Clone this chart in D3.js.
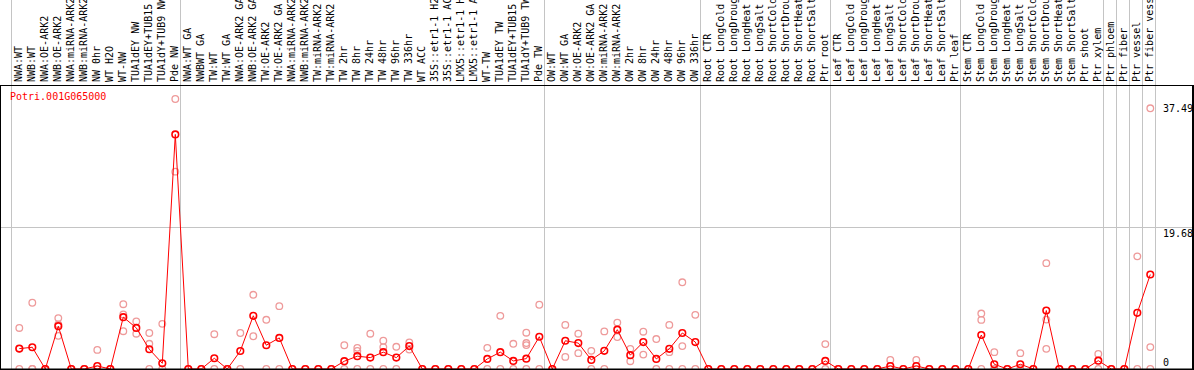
<!DOCTYPE html>
<html>
<head>
<meta charset="utf-8">
<script src="https://cdn.jsdelivr.net/npm/d3@7/dist/d3.min.js"></script>
<style>
  html, body { margin: 0; padding: 0; background: #fff; }
  svg { display: block; }
  text { font-family: "DejaVu Sans Mono", "Liberation Mono", monospace; font-size: 10px; }
</style>
</head>
<body>
<div id="chart"></div>
<script>
const geneName = 'Potri.001G065000';

const categories = [
  'NWA:WT', 'NWB:WT', 'NWA:OE-ARK2', 'NWB:OE-ARK2', 'NWA:miRNA-ARK2', 'NWB:miRNA-ARK2',
  'NW 0hr', 'WT H2O', 'WT-NW', 'TUA1dEY NW', 'TUA1dEY+TUB15', 'TUA1dY+TUB9 NW', 'Pde NW',
  'NWA:WT GA', 'NWBWT GA', 'TW:WT', 'TW:WT GA', 'NWA:OE-ARK2 GA', 'NWB:OE-ARK2 GA',
  'TW:OE-ARK2', 'TW:OE-ARK2 GA', 'NWA:miRNA-ARK2', 'NWB:miRNA-ARK2', 'TW:miRNA-ARK2',
  'TW:miRNA-ARK2', 'TW 2hr', 'TW 8hr', 'TW 24hr', 'TW 48hr', 'TW 96hr', 'TW 336hr',
  'WT ACC', '35S::etr1-1 H2O', '35S::etr1-1 ACC', 'LMX5::etr1-1 H2O', 'LMX5::etr1-1 ACC',
  'WT-TW', 'TUA1dEY TW', 'TUA1dEY+TUB15', 'TUA1dY+TUB9 TW', 'Pde TW',
  'OW:WT', 'OW:WT GA', 'OW:OE-ARK2', 'OW:OE-ARK2 GA', 'OW:miRNA-ARK2', 'OW:miRNA-ARK2',
  'OW 2hr', 'OW 8hr', 'OW 24hr', 'OW 48hr', 'OW 96hr', 'OW 336hr',
  'Root CTR', 'Root LongCold', 'Root LongDrought', 'Root LongHeat', 'Root LongSalt',
  'Root ShortCold', 'Root ShortDrought', 'Root ShortHeat', 'Root ShortSalt', 'Ptr root',
  'Leaf CTR', 'Leaf LongCold', 'Leaf LongDrought', 'Leaf LongHeat', 'Leaf LongSalt',
  'Leaf ShortCold', 'Leaf ShortDrought', 'Leaf ShortHeat', 'Leaf ShortSalt', 'Ptr leaf',
  'Stem CTR', 'Stem LongCold', 'Stem LongDrought', 'Stem LongHeat', 'Stem LongSalt',
  'Stem ShortCold', 'Stem ShortDrought', 'Stem ShortHeat', 'Stem ShortSalt', 'Ptr shoot',
  'Ptr xylem', 'Ptr phloem', 'Ptr fiber', 'Ptr vessel', 'Ptr fiber vessel'
];

// index where each group of samples starts (last entry closes the final group)
const groupStarts = [0, 13, 41, 53, 63, 73, 84, 85, 86, 87, 88];

const meanValues = [
  2.83, 3.02, 0, 5.95, 0, 0, 0.42, 0, 7.2, 5.71, 2.74, 0.79, 32.57,
  0, 0, 1.49, 0, 2.5, 7.39, 3.3, 4.32, 0, 0, 0, 0, 1.08, 1.78, 1.58, 2.34, 1.58, 3.18,
  0, 0, 0, 0, 0, 1.4, 2.34, 1.12, 1.44, 4.48,
  0, 3.92, 3.6, 1.26, 2.52, 5.46, 1.92, 3.74, 1.4, 2.8, 5.0, 3.74,
  0, 0, 0, 0, 0, 0, 0, 0, 0, 1.12,
  0, 0, 0, 0, 0.42, 0, 0.42, 0, 0, 0,
  0, 4.72, 0.66, 0, 0.66, 0, 8.12, 0, 0, 0,
  1.16, 0, 0, 7.8, 13.12
];

const replicateValues = [
  [5.7, 0, 2.8], [9.2, 0, 0], [0, 0], [7.07, 4.6, 6.2], [0, 0], [0, 0],
  [2.65, 0], [0, 0], [9.0, 7.57, 5.25], [6.6, 4.9], [5.0, 3.5, 0], [6.27, 0], [37.49, 27.4],
  [0], [0], [4.83, 0], [0], [5.0, 0], [10.3, 4.55], [6.83, 0], [8.73, 0],
  [0], [0], [0], [0], [3.3, 0], [2.94, 2.5, 0], [4.9, 0], [3.92, 3.04, 0], [3.08, 0], [3.68, 2.7],
  [0], [0], [0], [0], [0], [2.94, 0], [7.38, 0], [3.5, 0], [5.04, 3.6, 3.32, 0], [8.92, 0],
  [0], [6.12, 1.68], [4.9, 2.2], [2.52, 0], [5.22, 0], [6.44, 4.44], [2.8, 1.08], [5.18, 2.0],
  [4.16, 0], [6.12, 2.34, 0], [12.04, 3.18, 0], [7.52, 0],
  [0], [0], [0], [0], [0], [0], [0], [0], [0], [3.46, 0],
  [0], [0], [0], [0], [1.26, 0], [0], [1.26, 0], [0], [0], [0],
  [0], [7.7, 6.82, 0], [2.34, 0], [0], [2.2, 0], [0], [14.7, 6.86, 2.8], [0], [0], [0],
  [2.1, 0], [0], [0], [15.64, 0], [36.2, 3.04, 0]
];

const tickValues = [37.49, 19.68, 0];

const width = 1194;
const height = 370;
const plotTop = 85;
const plotBottom = 369;
const plotRight = 1192;
const labelBottom = 82;

const x = d3.scaleLinear()
  .domain([0, categories.length - 1])
  .range([19.3, 19.3 + 13 * (categories.length - 1)]);

const y = d3.scaleLinear()
  .domain([0, 37.49])
  .range([plotBottom, 99]);

const svg = d3.select('#chart')
  .append('svg')
  .attr('width', width)
  .attr('height', height);

// group separators, they run up through the label strip
svg.append('g')
  .selectAll('line')
  .data(groupStarts)
  .enter()
  .append('line')
  .attr('x1', d => Math.round(x(d) - 8) + 0.5)
  .attr('x2', d => Math.round(x(d) - 8) + 0.5)
  .attr('y1', 0)
  .attr('y2', plotBottom)
  .attr('stroke', '#c4c4c4')
  .attr('stroke-width', 1);

// mid gridline
svg.append('line')
  .attr('x1', 0)
  .attr('x2', plotRight)
  .attr('y1', Math.round(y(19.68)) + 0.5)
  .attr('y2', Math.round(y(19.68)) + 0.5)
  .attr('stroke', '#c4c4c4')
  .attr('stroke-width', 1);

// sample labels, rotated
svg.append('g')
  .selectAll('text')
  .data(categories)
  .enter()
  .append('text')
  .attr('transform', (d, i) => `translate(${x(i) - 1},${labelBottom}) rotate(-90)`)
  .attr('dy', '0.35em')
  .attr('fill', '#000')
  .text(d => d);

// replicate points
const reps = [];
replicateValues.forEach((vals, i) => vals.forEach(v => reps.push({ i, v })));

svg.append('g')
  .selectAll('circle')
  .data(reps)
  .enter()
  .append('circle')
  .attr('cx', d => x(d.i))
  .attr('cy', d => y(d.v))
  .attr('r', 3.3)
  .attr('fill', 'none')
  .attr('stroke', '#ee9a9a')
  .attr('stroke-width', 1.3);

// mean line
const line = d3.line()
  .x((d, i) => x(i))
  .y(d => y(d));

svg.append('path')
  .datum(meanValues)
  .attr('d', line)
  .attr('fill', 'none')
  .attr('stroke', '#ff0000')
  .attr('stroke-width', 1);

svg.append('g')
  .selectAll('circle')
  .data(meanValues)
  .enter()
  .append('circle')
  .attr('cx', (d, i) => x(i))
  .attr('cy', d => y(d))
  .attr('r', 3.3)
  .attr('fill', 'none')
  .attr('stroke', '#ff0000')
  .attr('stroke-width', 1.6);

// value labels on the right
svg.append('g')
  .selectAll('text')
  .data(tickValues)
  .enter()
  .append('text')
  .attr('x', 1163)
  .attr('y', d => d === 0 ? plotBottom - 3 : y(d) + (d === 37.49 ? 13 : 10))
  .attr('fill', '#000')
  .text(d => d);

svg.append('text')
  .attr('x', 10)
  .attr('y', 100)
  .attr('fill', '#ff0000')
  .text(geneName);

// frame
svg.append('line')
  .attr('x1', 0).attr('x2', width)
  .attr('y1', plotTop + 0.5).attr('y2', plotTop + 0.5)
  .attr('stroke', '#000');
svg.append('line')
  .attr('x1', 0).attr('x2', width)
  .attr('y1', plotBottom + 0.5).attr('y2', plotBottom + 0.5)
  .attr('stroke', '#000')
  .attr('stroke-width', 2);
svg.append('line')
  .attr('x1', 0.5).attr('x2', 0.5)
  .attr('y1', plotTop).attr('y2', height)
  .attr('stroke', '#000');
svg.append('line')
  .attr('x1', plotRight + 1).attr('x2', plotRight + 1)
  .attr('y1', plotTop).attr('y2', height)
  .attr('stroke', '#000')
  .attr('stroke-width', 2);
</script>
</body>
</html>
